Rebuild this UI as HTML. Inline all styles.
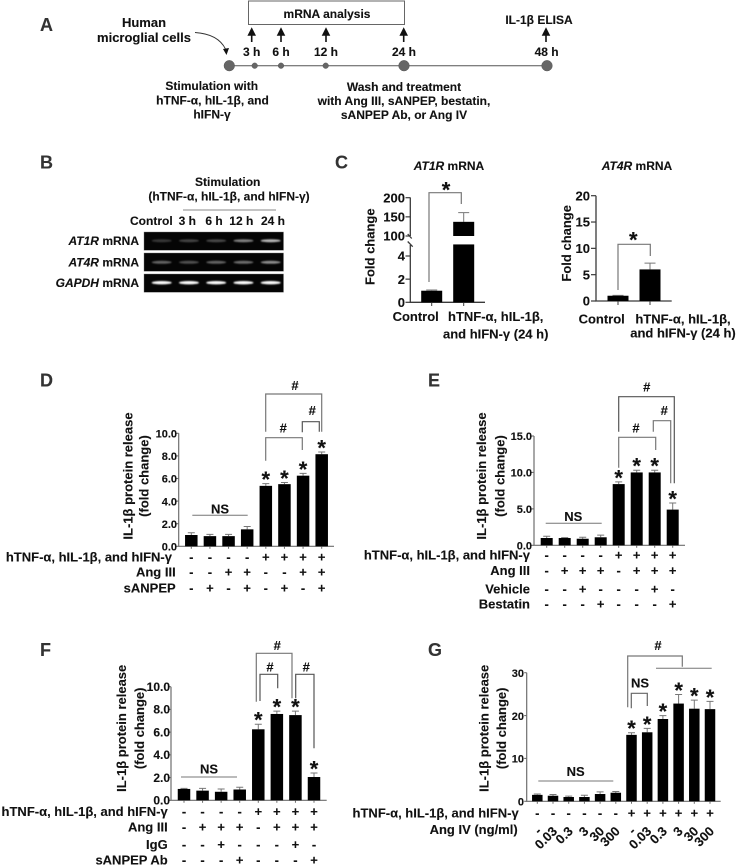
<!DOCTYPE html>
<html lang="en">
<head>
<meta charset="utf-8">
<title>IL-1β release in human microglial cells</title>
<style>
html,body{margin:0;padding:0;background:#fff;}
svg{display:block;filter:blur(0.3px);}
text{font-family:"Liberation Sans",Arial,sans-serif;font-weight:bold;fill:#111;stroke:#111;stroke-width:0.12px;}
.lbl{font-size:13px;}
.sm{font-size:12px;}
.mid{text-anchor:middle;}
.end{text-anchor:end;}
.letter{font-size:18px;fill:#333;stroke:#333;}
.it{font-style:italic;}
</style>
</head>
<body>
<svg id="figure" width="738" height="866" viewBox="0 0 738 866" xmlns="http://www.w3.org/2000/svg">
<defs>
<filter id="band-blur" x="-30%" y="-150%" width="160%" height="400%"><feGaussianBlur stdDeviation="0.9"/></filter>
</defs>
<rect width="738" height="866" fill="#fff"/>

<!-- Panel A -->
<g>
<text class="letter" x="40" y="31">A</text>
<text class="lbl mid" x="144" y="27">Human</text>
<text class="lbl mid" x="144" y="42">microglial cells</text>
<path d="M195 32.5 Q218 34 225.5 49" fill="none" stroke="#333" stroke-width="0.9"/>
<polygon points="223,49 229,48 226.5,55" fill="#111"/>
<rect x="248.5" y="1" width="156" height="23.5" fill="#fff" stroke="#666" stroke-width="1"/>
<text class="sm mid" x="327" y="18">mRNA analysis</text>
<text class="sm mid" x="539" y="24">IL-1β ELISA</text>
<line x1="229" y1="65.7" x2="547" y2="65.7" stroke="#555" stroke-width="1"/>
<g fill="#666" stroke="#555" stroke-width="0.5">
<circle cx="229.3" cy="65.7" r="5.3"/>
<circle cx="254.7" cy="65.7" r="2.8"/>
<circle cx="281" cy="65.7" r="2.8"/>
<circle cx="325.7" cy="65.7" r="2.8"/>
<circle cx="404" cy="65.7" r="5.3"/>
<circle cx="547" cy="65.7" r="5.3"/>
</g>
<g stroke="#111" stroke-width="1.6" fill="#111">
<path d="M251.7 33V42 M248.7 35L251.7 29L254.7 35Z"/>
<path d="M281 33V42 M278 35L281 29L284 35Z"/>
<path d="M326 33V42 M323 35L326 29L329 35Z"/>
<path d="M403.7 33V42 M400.7 35L403.7 29L406.7 35Z"/>
<path d="M546 33V42 M543 35L546 29L549 35Z"/>
</g>
<text class="sm mid" x="251.7" y="56">3 h</text>
<text class="sm mid" x="281" y="56">6 h</text>
<text class="sm mid" x="326" y="56">12 h</text>
<text class="sm mid" x="404" y="56">24 h</text>
<text class="sm mid" x="546.6" y="56">48 h</text>
<text class="sm mid" x="211.7" y="90">Stimulation with</text>
<text class="sm mid" x="212.5" y="104.5">hTNF-α, hIL-1β, and</text>
<text class="sm mid" x="212" y="118.5">hIFN-γ</text>
<text class="sm mid" x="404" y="91">Wash and treatment</text>
<text class="sm mid" x="404" y="105">with Ang III, sANPEP, bestatin,</text>
<text class="sm mid" x="404" y="119">sANPEP Ab, or Ang IV</text>
</g>

<!-- Panel B -->
<g id="panel-b">
<text class="letter" x="40" y="168.7">B</text>
<text class="sm mid" x="227.7" y="186">Stimulation</text>
<text class="sm mid" x="229" y="200.7">(hTNF-α, hIL-1β, and hIFN-γ)</text>
<line x1="183" y1="210" x2="276" y2="210" stroke="#888" stroke-width="1"/>
<text class="sm" x="130" y="225">Control</text>
<text class="sm mid" x="187.3" y="225">3 h</text>
<text class="sm mid" x="214" y="225">6 h</text>
<text class="sm mid" x="241.3" y="225">12 h</text>
<text class="sm mid" x="273" y="225">24 h</text>
<text class="sm end" x="139" y="245"><tspan class="it">AT1R</tspan> mRNA</text>
<text class="sm end" x="139" y="266.3"><tspan class="it">AT4R</tspan> mRNA</text>
<text class="sm end" x="139" y="287"><tspan class="it">GAPDH</tspan> mRNA</text>
</g>

<!-- Panel C static text -->
<g>
<text class="letter" x="335" y="168.7">C</text>
<text class="sm mid" x="449" y="170"><tspan class="it">AT1R</tspan> mRNA</text>
<text class="sm mid" x="637" y="170"><tspan class="it">AT4R</tspan> mRNA</text>
<text class="lbl mid" transform="rotate(-90 374.5 246.7)" x="374.5" y="246.7">Fold change</text>
<text class="lbl mid" transform="rotate(-90 571 243.3)" x="571" y="243.3">Fold change</text>
<text class="lbl mid" x="415.7" y="321">Control</text>
<text class="lbl mid" x="495.7" y="321">hTNF-α, hIL-1β,</text>
<text class="lbl mid" x="495.7" y="338.7">and hIFN-γ (24 h)</text>
<text class="lbl mid" x="601.7" y="323.3">Control</text>
<text class="lbl mid" x="683" y="323.3">hTNF-α, hIL-1β,</text>
<text class="lbl mid" x="683" y="337.7">and hIFN-γ (24 h)</text>
</g>

<text class="letter" x="40" y="386.7">D</text>
<text class="letter" x="428" y="386.7">E</text>
<text class="letter" x="40" y="656">F</text>
<text class="letter" x="428" y="656">G</text>
</svg>

<script>
// ---------- Blot band intensities ----------
const blotAT1R = [0.2, 0.25, 0.27, 0.5, 0.72];
const blotAT4R = [0.38, 0.3, 0.38, 0.42, 0.55];
const blotGAPDH = [1, 1, 1, 1, 1];

// ---------- Panel C ----------
const at1rValues = [1, 137];
const at1rErrors = [0.06, 24];
const at1rLowerTicks = [0, 2, 4];
const at1rUpperTicks = [100, 150, 200];
const at4rValues = [1, 6];
const at4rErrors = [0.08, 1.2];
const at4rTicks = [0, 5, 10, 15, 20];

// ---------- Panel D ----------
const dValues = [1.0, 0.9, 0.9, 1.5, 5.35, 5.5, 6.25, 8.15];
const dErrors = [0.2, 0.15, 0.15, 0.25, 0.2, 0.15, 0.2, 0.2];
const dTicks = [0, 2, 4, 6, 8, 10];
const dRowLabels = ['hTNF-α, hIL-1β, and hIFN-γ', 'Ang III', 'sANPEP'];
const dRows = ['----++++', '--++--++', '-+-+-+-+'];
const dStars = [4, 5, 6, 7];

// ---------- Panel E ----------
const eValues = [1.0, 1.0, 0.9, 1.1, 8.4, 10.0, 10.0, 4.9];
const eErrors = [0.25, 0.05, 0.2, 0.3, 0.3, 0.3, 0.3, 0.9];
const eTicks = [0, 5, 10, 15];
const eRowLabels = ['hTNF-α, hIL-1β, and hIFN-γ', 'Ang III', 'Vehicle', 'Bestatin'];
const eRows = ['----++++', '-+++-+++', '--+---+-', '---+---+'];
const eStars = [4, 5, 6, 7];

// ---------- Panel F ----------
const fValues = [1.0, 0.85, 0.75, 0.95, 6.25, 7.6, 7.5, 2.05];
const fErrors = [0.05, 0.2, 0.25, 0.2, 0.45, 0.25, 0.35, 0.35];
const fTicks = [0, 2, 4, 6, 8, 10];
const fRowLabels = ['hTNF-α, hIL-1β, and hIFN-γ', 'Ang III', 'IgG', 'sANPEP Ab'];
const fRows = ['----++++', '-+++-+++', '--+---+-', '---+---+'];
const fStars = [4, 5, 6, 7];

// ---------- Panel G ----------
const gValues = [1.5, 1.3, 1.0, 1.0, 1.7, 2.0, 15.5, 16.1, 19.2, 22.8, 21.6, 21.5];
const gErrors = [0.2, 0.3, 0.2, 0.4, 0.5, 0.3, 0.5, 0.9, 0.8, 2.1, 2.0, 1.8];
const gTicks = [0, 10, 20, 30];
const gRowLabels = ['hTNF-α, hIL-1β, and hIFN-γ'];
const gRows = ['------++++++'];
const gDoses = ['-', '0.03', '0.3', '3', '30', '300', '-', '0.03', '0.3', '3', '30', '300'];
const gStars = [6, 7, 8, 9, 10, 11];

const SVGNS = 'http://www.w3.org/2000/svg';
const figure = document.getElementById('figure');
const AXIS = '#3a3a3a';
const PANEL_AXIS = '#6e6e6e';
const GREY = '#777';

function make(tag, attrs, parent) {
  const node = document.createElementNS(SVGNS, tag);
  Object.keys(attrs).forEach(function (k) { node.setAttribute(k, attrs[k]); });
  parent.appendChild(node);
  return node;
}
function label(str, attrs, parent) {
  const node = make('text', attrs, parent);
  node.textContent = str;
  return node;
}
function linearScale(d0, d1, r0, r1) {
  return function (v) { return r0 + (v - d0) * (r1 - r0) / (d1 - d0); };
}

// Blot
(function () {
  const parent = document.getElementById('panel-b');
  const rowTop = [232, 253, 274];
  const bandY = [240.7, 262.3, 282.7];
  const laneX = linearScale(0, 4, 161.7, 270.7);
  [blotAT1R, blotAT4R, blotGAPDH].forEach(function (series, r) {
    const box = make('rect', { x: 144, y: rowTop[r], width: 139.5, height: 18.3, fill: '#050505', stroke: '#777', 'stroke-width': 0.4 }, parent);
    
    
    series.forEach(function (v, i) {
      const ry = r === 2 ? 1.7 : 1.5;
      const band = make('ellipse', { cx: laneX(i), cy: bandY[r], rx: 10, ry: ry, fill: '#fff', opacity: v, filter: 'url(#band-blur)' }, parent);
      
      
    });
  });
})();

function drawBracket(parent, x1, x2, top, yL, yR, stroke) {
  const b = make('path', { d: 'M' + x1 + ' ' + yL + 'V' + top + 'H' + x2 + 'V' + yR, fill: 'none', stroke: stroke || GREY, 'stroke-width': 1.2 }, parent);
  
  
}
function drawMark(parent, str, x, y) {
  const t = label(str, { x: x, y: y, class: 'lbl mid' }, parent);
  
  
}
function drawRule(parent, x1, x2, y) {
  const l = make('line', { x1: x1, x2: x2, y1: y, y2: y, stroke: GREY, 'stroke-width': 1 }, parent);
  
  
}
function drawStar(parent, x, errTop) {
  const s = label('*', { x: x, y: errTop + 3.5, class: 'mid', 'font-size': 22 }, parent);
  
  
}
function drawError(parent, x, yTop, yBase, cap) {
  const e = make('path', { d: 'M' + x + ' ' + yBase + 'V' + yTop + 'M' + (x - cap) + ' ' + yTop + 'H' + (x + cap), stroke: '#777', 'stroke-width': 1, fill: 'none' }, parent);
  
  
}

// Grouped bar panels D–G
function drawPanel(cfg) {
  const g = make('g', {}, figure);
  
  
  const y = linearScale(0, cfg.max, cfg.y0, cfg.yMax);
  const n = cfg.values.length;
  const x = linearScale(0, n - 1, cfg.xFirst, cfg.xLast);

  const axes = make('path', { d: 'M' + cfg.axisX + ' ' + cfg.yMax + 'V' + cfg.y0 + 'H' + cfg.axisEnd, stroke: PANEL_AXIS, 'stroke-width': 1.2, fill: 'none' }, g);
  
  

  cfg.ticks.forEach(function (t) {
    const tick = make('line', { x1: cfg.axisX - 2.5, x2: cfg.axisX, y1: y(t), y2: y(t), stroke: PANEL_AXIS, 'stroke-width': 1.1 }, g);
    
    
    const tl = label(cfg.decimals ? t.toFixed(1) : String(t), { x: cfg.tickRight, y: y(t) + 4.2, class: 'end', 'font-size': cfg.tickFont }, g);
    
    
  });

  cfg.titleLines.forEach(function (line, i) {
    const tt = label(line, { x: cfg.titleX[i], y: cfg.titleY, class: 'lbl mid', transform: 'rotate(-90 ' + cfg.titleX[i] + ' ' + cfg.titleY + ')' }, g);
    
    
  });

  cfg.values.forEach(function (v, i) {
    const cx = x(i);
    const tick = make('line', { x1: cx, x2: cx, y1: cfg.y0, y2: cfg.y0 + 2.5, stroke: PANEL_AXIS, 'stroke-width': 1 }, g);
    
    
    drawError(g, cx, y(v + cfg.errors[i]), y(v), cfg.cap);
    const bar = make('rect', { x: cx - cfg.barW / 2, y: y(v), width: cfg.barW, height: cfg.y0 - y(v), fill: '#000' }, g);
    
    
  });

  cfg.stars.forEach(function (i) {
    drawStar(g, x(i), y(cfg.values[i] + cfg.errors[i]));
  });

  cfg.rowLabels.forEach(function (txt, r) {
    const rl = label(txt, { x: cfg.rowRight[r], y: cfg.rowY[r], class: 'lbl end' }, g);
    
    
    cfg.rows[r].split('').forEach(function (sign, i) {
      const sg = label(sign, { x: x(i), y: cfg.rowY[r], class: 'lbl mid' }, g);
      
      
    });
  });
  return { g: g, x: x };
}

// Panel C left: broken axis
(function () {
  const g = make('g', {}, figure);
  
  
  const yLow = linearScale(0, 4, 302.3, 256);
  const yHigh = linearScale(100, 200, 236, 197.7);
  const y = function (v) { return v <= 5 ? yLow(v) : yHigh(v); };
  const x = linearScale(0, 1, 431.7, 463.7);
  const bw = 21;
  const axes = make('path', { d: 'M410.3 197.5V236 M410.3 245V302.3H485 M407.7 234L411.7 238.5 M407.7 241.5L412.7 246.7', stroke: AXIS, 'stroke-width': 1.3, fill: 'none' }, g);
  
  
  at1rLowerTicks.concat(at1rUpperTicks).forEach(function (t) {
    const tick = make('line', { x1: 405.5, x2: 410.3, y1: y(t), y2: y(t), stroke: AXIS, 'stroke-width': 1.2 }, g);
    
    
    const tl = label(String(t), { x: 405, y: y(t) + 4.6, class: 'lbl end' }, g);
    
    
  });
  at1rValues.forEach(function (v, i) {
    const cx = x(i);
    const tick = make('line', { x1: cx, x2: cx, y1: 302.3, y2: 306, stroke: AXIS, 'stroke-width': 1 }, g);
    
    
    drawError(g, cx, y(v + at1rErrors[i]), y(v), 5.5);
    if (v > 5) {
      const upper = make('rect', { x: cx - bw / 2, y: y(v), width: bw, height: yHigh(100) - y(v), fill: '#000' }, g);
      
      
      const lower = make('rect', { x: cx - bw / 2, y: yLow(5), width: bw, height: 302.3 - yLow(5), fill: '#000' }, g);
      
      
    } else {
      const bar = make('rect', { x: cx - bw / 2, y: y(v), width: bw, height: 302.3 - y(v), fill: '#000' }, g);
      
      
    }
  });
  drawBracket(g, 429, 461.3, 192.7, 282, 204);
  const s = label('*', { x: 446, y: 197.5, class: 'mid', 'font-size': 22 }, g);
  
  
})();

// Panel C right
(function () {
  const g = make('g', {}, figure);
  
  
  const y = linearScale(0, 20, 301, 195.7);
  const x = linearScale(0, 1, 618, 650);
  const bw = 21;
  const axes = make('path', { d: 'M596 195.7V301H671.7', stroke: AXIS, 'stroke-width': 1.3, fill: 'none' }, g);
  
  
  at4rTicks.forEach(function (t) {
    const tick = make('line', { x1: 591, x2: 596, y1: y(t), y2: y(t), stroke: AXIS, 'stroke-width': 1.2 }, g);
    
    
    const tl = label(String(t), { x: 590, y: y(t) + 4.6, class: 'lbl end' }, g);
    
    
  });
  at4rValues.forEach(function (v, i) {
    const cx = x(i);
    const tick = make('line', { x1: cx, x2: cx, y1: 301, y2: 305, stroke: AXIS, 'stroke-width': 1 }, g);
    
    
    drawError(g, cx, y(v + at4rErrors[i]), y(v), 5.5);
    const bar = make('rect', { x: cx - bw / 2, y: y(v), width: bw, height: 301 - y(v), fill: '#000' }, g);
    
    
  });
  drawBracket(g, 618, 650.3, 244.3, 290, 256);
  const s = label('*', { x: 633.3, y: 247.5, class: 'mid', 'font-size': 22 }, g);
  
  
})();

const titleLines = ['IL-1β protein release', '(fold change)'];

// Panel D
(function () {
  const p = drawPanel({
    name: 'panel-d-chart', values: dValues, errors: dErrors, ticks: dTicks, stars: dStars,
    rowLabels: dRowLabels, rows: dRows, max: 10, decimals: true, tickFont: 11,
    y0: 546.3, yMax: 433.3, xFirst: 191.3, xLast: 321.7, barW: 12.5, cap: 3.5,
    axisX: 178.7, axisEnd: 334, tickRight: 177, titleLines: titleLines, titleX: [132.3, 148.3], titleY: 476,
    rowRight: [172, 175.7, 175.7], rowY: [561.7, 576.7, 592.7]
  });
  drawBracket(p.g, 265.7, 321.7, 394, 431.7, 431.7);
  drawMark(p.g, '#', 295, 390);
  drawBracket(p.g, 302.3, 319.3, 421.7, 432.3, 431.7, '#555');
  drawMark(p.g, '#', 312.3, 415);
  drawBracket(p.g, 265.7, 302.3, 437.7, 460.7, 450);
  drawMark(p.g, '#', 283.3, 432.3);
  drawRule(p.g, 192.3, 247.7, 515.3);
  drawMark(p.g, 'NS', 220, 513.3);
})();

// Panel E
(function () {
  const p = drawPanel({
    name: 'panel-e-chart', values: eValues, errors: eErrors, ticks: eTicks, stars: eStars,
    rowLabels: eRowLabels, rows: eRows, max: 15, decimals: true, tickFont: 11,
    y0: 545.3, yMax: 436, xFirst: 546.7, xLast: 672.7, barW: 12, cap: 3.5,
    axisX: 534, axisEnd: 685, tickRight: 532, titleLines: titleLines, titleX: [486, 504.5], titleY: 476,
    rowRight: [530, 530, 530, 530], rowY: [559.3, 575, 593.3, 608.3]
  });
  drawBracket(p.g, 618.7, 674.3, 396.7, 431.7, 483.3, '#555');
  drawMark(p.g, '#', 646.7, 391.7);
  drawBracket(p.g, 653.3, 670.7, 420.7, 431.7, 483.3);
  drawMark(p.g, '#', 664.3, 415);
  drawBracket(p.g, 618.7, 655.7, 437.3, 467.7, 450);
  drawMark(p.g, '#', 636, 432.7);
  drawRule(p.g, 545.7, 601.7, 523.3);
  drawMark(p.g, 'NS', 573.3, 521);
})();

// Panel F
(function () {
  const p = drawPanel({
    name: 'panel-f-chart', values: fValues, errors: fErrors, ticks: fTicks, stars: fStars,
    rowLabels: fRowLabels, rows: fRows, max: 10, decimals: true, tickFont: 12,
    y0: 800.3, yMax: 686.7, xFirst: 184, xLast: 314, barW: 12.5, cap: 3.5,
    axisX: 171, axisEnd: 326.7, tickRight: 170, titleLines: titleLines, titleX: [126, 144], titleY: 728.3,
    rowRight: [167.7, 167.7, 167.7, 167.7], rowY: [816, 831.7, 849, 864.3]
  });
  drawBracket(p.g, 256.3, 292, 653.3, 701.7, 698.3);
  drawMark(p.g, '#', 277.3, 650);
  drawBracket(p.g, 260, 277.7, 674.3, 701, 688.3, '#555');
  drawMark(p.g, '#', 270, 671.3);
  drawBracket(p.g, 295.7, 314, 674.3, 698.3, 748.3, '#555');
  drawMark(p.g, '#', 306.3, 671.3);
  drawRule(p.g, 181, 237, 777);
  drawMark(p.g, 'NS', 209, 773.3);
})();

// Panel G
(function () {
  const p = drawPanel({
    name: 'panel-g-chart', values: gValues, errors: gErrors, ticks: gTicks, stars: gStars,
    rowLabels: gRowLabels, rows: gRows, max: 30, decimals: false, tickFont: 11,
    y0: 801.3, yMax: 672.7, xFirst: 537.3, xLast: 710, barW: 10.5, cap: 3.5,
    axisX: 526.7, axisEnd: 720.7, tickRight: 524, titleLines: titleLines, titleX: [488.5, 506], titleY: 728.3,
    rowRight: [518.7], rowY: [817.3]
  });
  const doseLabel = label('Ang IV (ng/ml)', { x: 517.7, y: 834, class: 'lbl end' }, p.g);
  
  
  gDoses.forEach(function (d, i) {
    const cx = p.x(i) + 5;
    const dl = label(d, { x: cx, y: 832, class: 'lbl end', transform: 'rotate(-45 ' + cx + ' 832)' }, p.g);
    
    
  });
  drawBracket(p.g, 627.7, 682.3, 656, 707.3, 666.7);
  drawMark(p.g, '#', 658, 650);
  drawRule(p.g, 656, 711.7, 668.3);
  drawBracket(p.g, 631.3, 647.3, 693.3, 708.3, 706, '#666');
  drawMark(p.g, 'NS', 640, 687.3);
  drawRule(p.g, 538.3, 613.3, 781);
  drawMark(p.g, 'NS', 575.7, 776);
})();
</script>
</body>
</html>
